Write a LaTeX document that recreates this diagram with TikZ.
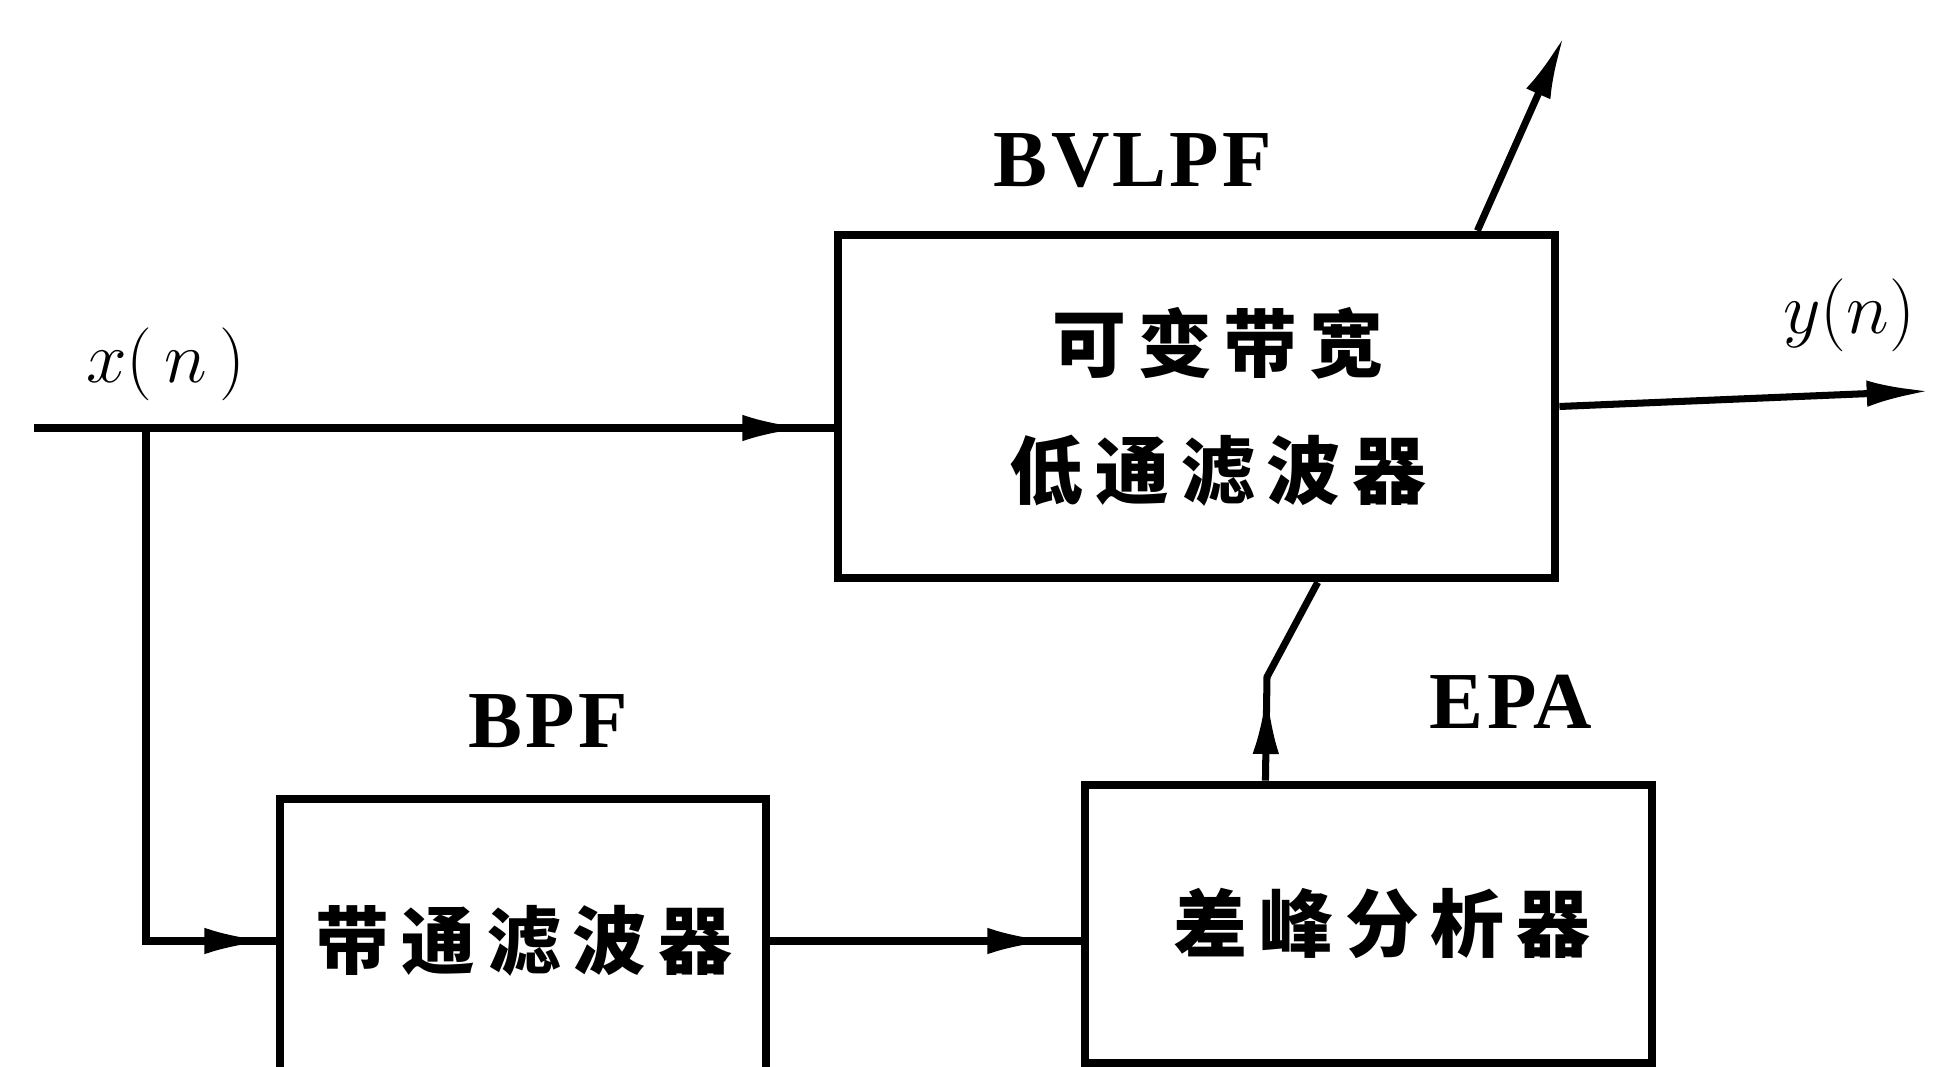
\documentclass[tikz,border=0pt]{standalone}
\usepackage{fontspec}
\newfontfamily\cjk[LetterSpace=16]{Noto Sans CJK SC}
\newfontfamily\lat[LetterSpace=4]{Liberation Serif}
\usetikzlibrary{arrows.meta,calc,decorations.markings}
\begin{document}
\begin{tikzpicture}[x=0.01cm,y=-0.01cm,
  box/.style={draw, line width=2.4pt, inner sep=0pt},
  conn/.style={line width=2pt},
  cjktext/.style={font=\cjk\bfseries\fontsize{21}{36}\selectfont, align=center},
  tag/.style={font=\lat\bfseries\fontsize{23}{28}\selectfont},
  sig/.style={font=\fontsize{22}{26}\selectfont},
  tip/.style={-{Latex[length=18pt,width=7.5pt]}},
  arrowat/.style={postaction={decorate}, decoration={markings, mark=at position #1 with {\arrow{Latex[length=18pt,width=7.5pt]}}}}
]
\useasboundingbox (0,0) rectangle (1936,1067);
\clip (0,0) rectangle (1936,1067);

% blocks
\node[box, minimum width=7.17cm, minimum height=3.43cm] (bvlpf) at (1196.5,406.5) {};
\node[box, minimum width=4.86cm, minimum height=2.84cm] (bpf) at (523,941) {};
\node[box, minimum width=5.67cm, minimum height=2.78cm] (epa) at (1368.5,924) {};

% texts in blocks
\node[cjktext] (bvlpftext) at (1218,407) {可变带宽\\低通滤波器};
\node[cjktext] (bpftext) at (524,941) {带通滤波器};
\node[cjktext] (epatext) at (1382,923) {差峰分析器};

% labels
\node[tag] (lbvlpf) at (1133,161) {BVLPF};
\node[tag] (lbpf) at (548,721) {BPF};
\node[tag] (lepa) at (1511,702) {EPA};
\node[sig] (lx) at (166,364) {$x(\,n\,)$};
\node[sig] (ly) at (1849,315) {$y(n)$};

% free ends
\coordinate (xin) at (34,428);
\coordinate (br) at (146,428);
\coordinate (ctl) at (1564,36);
\coordinate (yout) at (1930,391);
\coordinate (bend) at (1267,677);

% connectors
\draw[conn, arrowat=-0.28cm] (xin) -- (xin -| bvlpf.west);
\draw[conn, arrowat=-0.08cm] (br) |- (bpf.west);
\draw[conn, arrowat=-0.3cm] (bpf.east) -- (bpf.east -| epa.west);
\draw[conn, arrowat=0.9cm] ($(epa.north west)!0.321!(epa.north east)$) -- (bend) -- ($(bvlpf.south west)!0.667!(bvlpf.south east)$);
\draw[conn, tip] ($(bvlpf.north west)!0.887!(bvlpf.north east)$) -- (ctl);
\draw[conn, tip] (bvlpf.east) -- (yout);
\end{tikzpicture}
\end{document}
